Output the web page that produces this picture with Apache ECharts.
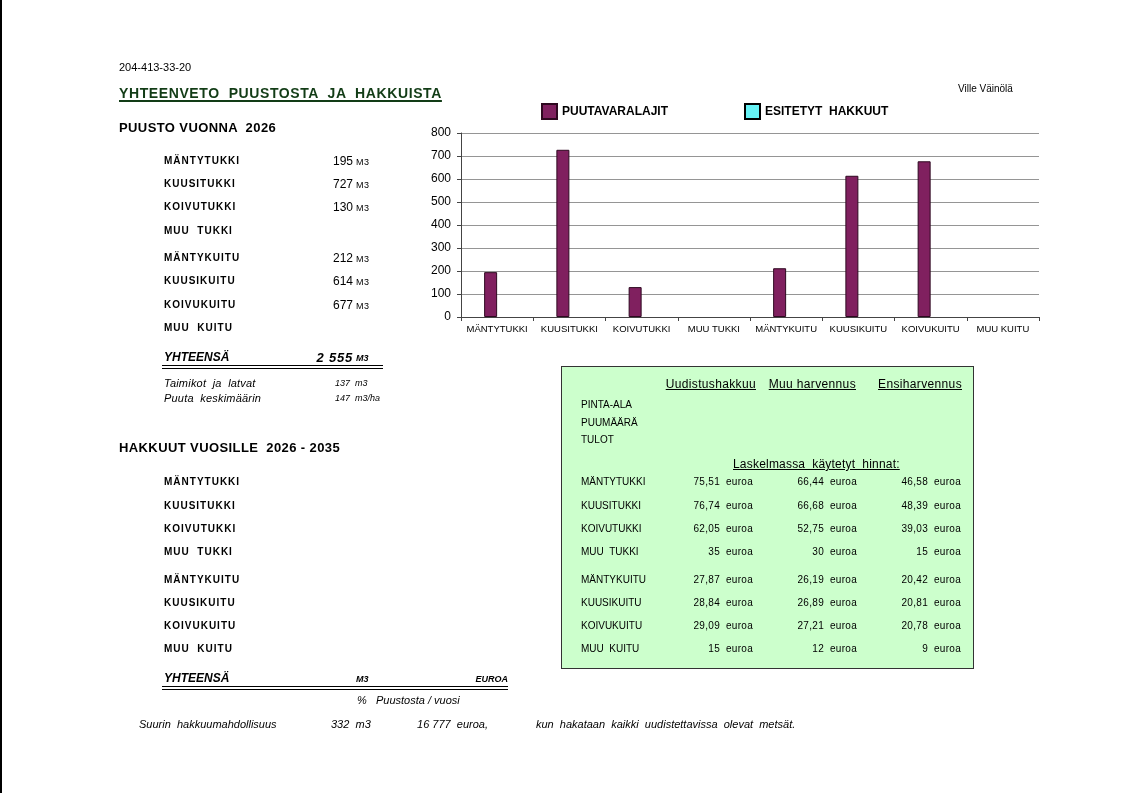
<!DOCTYPE html>
<html>
<head>
<meta charset="utf-8">
<title>Yhteenveto puustosta ja hakkuista</title>
<script src="https://cdn.jsdelivr.net/npm/echarts@6/dist/echarts.min.js"></script>
<style>
  html, body { margin: 0; padding: 0; background: #fff; }
  #page { position: relative; width: 1121px; height: 793px; overflow: hidden;
          font-family: "Liberation Sans", Arial, sans-serif; color: #000; }
  #chart { position: absolute; left: 0; top: 0; width: 1121px; height: 793px; }
  #texts { position: absolute; left: 0; top: 0; width: 1121px; height: 793px; pointer-events: none; }
  .t { position: absolute; white-space: pre; line-height: 1; transform: translateY(-50%); }
  .r { transform: translate(-100%, -50%); }
  .lbl { font-size: 10px; font-weight: bold; letter-spacing: 1px; }
  .hdr { font-size: 13px; font-weight: bold; letter-spacing: 0.4px; }
  .it { font-style: italic; }
  .u { text-decoration: underline; }
  .dbl { position: absolute; height: 2px; border-top: 1px solid #000; border-bottom: 1px solid #000; }
  #box { position: absolute; left: 561px; top: 366px; width: 411px; height: 301px;
         background: #ccffcc; border: 1px solid #333; }
</style>
</head>
<body>
<div id="page">
  <div style="position:absolute;left:0;top:0;width:2px;height:793px;background:#000"></div>
  <div id="box"></div>
  <div id="chart"></div>
  <div id="texts"></div>
</div>
<script>
// tavaralajit
const categories = ['MÄNTYTUKKI', 'KUUSITUKKI', 'KOIVUTUKKI', 'MUU TUKKI',
                    'MÄNTYKUITU', 'KUUSIKUITU', 'KOIVUKUITU', 'MUU KUITU'];
const rowLabels = ['MÄNTYTUKKI', 'KUUSITUKKI', 'KOIVUTUKKI', 'MUU  TUKKI',
                   'MÄNTYKUITU', 'KUUSIKUITU', 'KOIVUKUITU', 'MUU  KUITU'];
// puusto vuonna 2026, m3
const puustoM3 = [195, 727, 130, null, 212, 614, 677, null];
// esitetyt hakkuut (tyhjä)
const hakkuutM3 = [null, null, null, null, null, null, null, null];
const yhteensa = '2 555';

// hinnat euroa / m3
const hinnatUudistus = ['75,51', '76,74', '62,05', '35', '27,87', '28,84', '29,09', '15'];
const hinnatMuu = ['66,44', '66,68', '52,75', '30', '26,19', '26,89', '27,21', '12'];
const hinnatEnsi = ['46,58', '48,39', '39,03', '15', '20,42', '20,81', '20,78', '9'];

const rowsTop = [161, 184, 207, 231, 258, 281, 305, 328];
const rowsBottom = [482, 506, 529, 552, 580, 603, 626, 649];

const layer = document.getElementById('texts');
function t(x, y, text, cls, style) {
  const d = document.createElement('div');
  d.className = 't ' + (cls || '');
  d.style.left = x + 'px';
  d.style.top = y + 'px';
  d.textContent = text;
  if (style) Object.assign(d.style, style);
  layer.appendChild(d);
  return d;
}
function dbl(x, y, w) {
  const d = document.createElement('div');
  d.className = 'dbl';
  d.style.left = x + 'px';
  d.style.top = y + 'px';
  d.style.width = w + 'px';
  layer.appendChild(d);
}

t(119, 67, '204-413-33-20', '', { fontSize: '11px' });
t(119, 93, 'YHTEENVETO  PUUSTOSTA  JA  HAKKUISTA', 'u',
  { fontSize: '14px', fontWeight: 'bold', color: '#123c16', letterSpacing: '0.6px',
    textDecorationThickness: '2px', textUnderlineOffset: '2px' });
t(958, 89, 'Ville Väinölä', '', { fontSize: '10px' });

// puusto
t(119, 127, 'PUUSTO VUONNA  2026', 'hdr');
rowLabels.forEach((lab, i) => {
  t(164, rowsTop[i], lab, 'lbl');
  if (puustoM3[i] != null) {
    t(353, rowsTop[i], String(puustoM3[i]), 'r', { fontSize: '12px' });
    t(356, rowsTop[i] + 1, 'M3', '', { fontSize: '9px', letterSpacing: '0.5px' });
  }
});
t(164, 357, 'YHTEENSÄ', 'it', { fontSize: '12px', fontWeight: 'bold' });
t(353, 357, yhteensa, 'it r', { fontSize: '13px', fontWeight: 'bold', letterSpacing: '0.8px' });
t(356, 358, 'M3', 'it', { fontSize: '9px', fontWeight: 'bold' });
dbl(162, 365, 221);
t(164, 383, 'Taimikot  ja  latvat', 'it', { fontSize: '11px', letterSpacing: '0.2px' });
t(335, 383, '137  m3', 'it', { fontSize: '9px' });
t(164, 398, 'Puuta  keskimäärin', 'it', { fontSize: '11px', letterSpacing: '0.2px' });
t(335, 398, '147  m3/ha', 'it', { fontSize: '9px' });

// hakkuut
t(119, 447, 'HAKKUUT VUOSILLE  2026 - 2035', 'hdr');
rowLabels.forEach((lab, i) => t(164, rowsBottom[i], lab, 'lbl'));
t(164, 678, 'YHTEENSÄ', 'it', { fontSize: '12px', fontWeight: 'bold' });
t(356, 679, 'M3', 'it', { fontSize: '9px', fontWeight: 'bold' });
t(508, 679, 'EUROA', 'it r', { fontSize: '9px', fontWeight: 'bold' });
dbl(162, 686, 346);
t(357, 700, '%   Puustosta / vuosi', 'it', { fontSize: '11px' });
t(139, 724, 'Suurin  hakkuumahdollisuus', 'it', { fontSize: '11px' });
t(331, 724, '332  m3', 'it', { fontSize: '11px' });
t(488, 724, '16 777  euroa,', 'it r', { fontSize: '11px' });
t(536, 724, 'kun  hakataan  kaikki  uudistettavissa  olevat  metsät.', 'it', { fontSize: '11px' });

// vihreä laatikko
t(756, 384, 'Uudistushakkuu', 'u r', { fontSize: '12px', letterSpacing: '0.35px' });
t(856, 384, 'Muu harvennus', 'u r', { fontSize: '12px', letterSpacing: '0.35px' });
t(962, 384, 'Ensiharvennus', 'u r', { fontSize: '12px', letterSpacing: '0.35px' });
t(581, 405, 'PINTA-ALA', '', { fontSize: '10px' });
t(581, 423, 'PUUMÄÄRÄ', '', { fontSize: '10px' });
t(581, 440, 'TULOT', '', { fontSize: '10px' });
t(733, 464, 'Laskelmassa  käytetyt  hinnat:', 'u', { fontSize: '12px', letterSpacing: '0.2px' });
rowLabels.forEach((lab, i) => {
  const y = rowsBottom[i];
  t(581, y, lab, '', { fontSize: '10px' });
  [[hinnatUudistus, 720], [hinnatMuu, 824], [hinnatEnsi, 928]].forEach(([arr, x]) => {
    t(x, y, arr[i], 'r', { fontSize: '10px', letterSpacing: '0.3px' });
    t(x + 6, y, 'euroa', '', { fontSize: '10px', letterSpacing: '0.3px' });
  });
});

// pylväskaavio
const chart = echarts.init(document.getElementById('chart'));
chart.setOption({
  animation: false,
  legend: [
    { data: ['PUUTAVARALAJIT'], left: 541, top: 103, padding: 0, icon: 'rect', itemWidth: 15, itemHeight: 15,
      textStyle: { fontSize: 12, fontWeight: 'bold', color: '#000' } },
    { data: ['ESITETYT  HAKKUUT'], left: 744, top: 103, padding: 0, icon: 'rect', itemWidth: 15, itemHeight: 15,
      textStyle: { fontSize: 12, fontWeight: 'bold', color: '#000' } }
  ],
  grid: { left: 461, right: 82, top: 133, bottom: 476 },
  xAxis: {
    type: 'category',
    data: categories,
    axisLine: { lineStyle: { color: '#444' } },
    axisTick: { show: true, length: 4, lineStyle: { color: '#444' } },
    axisLabel: { interval: 0, fontSize: 9.5, color: '#000', margin: 7 }
  },
  yAxis: {
    type: 'value',
    min: 0,
    max: 800,
    interval: 100,
    axisLine: { show: true, lineStyle: { color: '#444' } },
    axisTick: { show: true, length: 4, lineStyle: { color: '#444' } },
    axisLabel: { fontSize: 12, color: '#000', margin: 10 },
    splitLine: { lineStyle: { color: '#959595', width: 1 } }
  },
  series: [
    {
      name: 'PUUTAVARALAJIT',
      type: 'bar',
      data: puustoM3,
      barWidth: 13,
      barGap: '0%',
      itemStyle: { color: '#80205f', borderColor: '#2e0820', borderWidth: 1 }
    },
    {
      name: 'ESITETYT  HAKKUUT',
      type: 'bar',
      data: hakkuutM3,
      barWidth: 13,
      itemStyle: { color: '#66f2f5', borderColor: '#000', borderWidth: 1 }
    }
  ]
});
</script>
</body>
</html>
